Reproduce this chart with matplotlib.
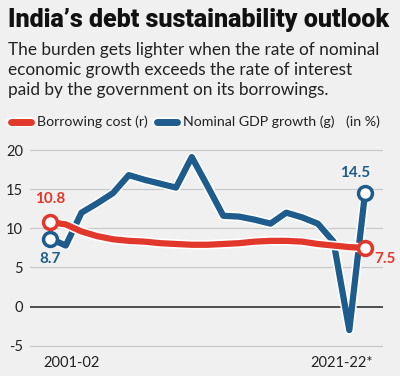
"""
India's debt sustainability outlook: borrowing cost vs nominal GDP growth
"""

import matplotlib
matplotlib.use("Agg")
import matplotlib.pyplot as plt
import matplotlib.patheffects as pe
from matplotlib.transforms import offset_copy

# データ（%）
years = ["2001-02", "2002-03", "2003-04", "2004-05", "2005-06", "2006-07", "2007-08",
         "2008-09", "2009-10", "2010-11", "2011-12", "2012-13", "2013-14", "2014-15",
         "2015-16", "2016-17", "2017-18", "2018-19", "2019-20", "2020-21", "2021-22*"]
borrowing_cost = [10.8, 10.5, 9.6, 9.0, 8.6, 8.4, 8.3, 8.1, 8.0, 7.9, 7.9,
                  8.0, 8.1, 8.3, 8.4, 8.4, 8.3, 8.0, 7.8, 7.6, 7.5]
gdp_growth = [8.7, 7.8, 12.0, 13.2, 14.5, 16.8, 16.2, 15.7, 15.2, 19.1, 15.4,
              11.6, 11.5, 11.1, 10.6, 12.0, 11.4, 10.6, 8.3, -3.0, 14.5]
y_ticks = [-5, 0, 5, 10, 15, 20]

RED = "#e2382b"
BLUE = "#1d5c8c"
BG = "#f0f0f0"
TEXT = "#222222"
SANS = ["Lato", "DejaVu Sans"]

fig = plt.figure(figsize=(4.0, 3.76), dpi=100, facecolor=BG)

# --- タイトル / サブタイトル ---
fig.text(0.02, 0.978, "India\u2019s debt sustainability outlook", ha="left", va="top",
         fontsize=18, fontweight="heavy", color="#111111",
         family=["Roboto", "DejaVu Sans"])
fig.text(0.02, 0.888,
         "The burden gets lighter when the rate of nominal\n"
         "economic growth exceeds the rate of interest\n"
         "paid by the government on its borrowings.",
         ha="left", va="top", fontsize=12.4, color=TEXT, linespacing=1.3,
         family=SANS)

# --- 凡例 ---
leg_y = 1 - 122 / 376
for x0, color, label in [(0.027, RED, "Borrowing cost (r)"),
                         (0.392, BLUE, "Nominal GDP growth (g)")]:
    fig.lines.append(plt.Line2D([x0, x0 + 0.05], [leg_y, leg_y], transform=fig.transFigure,
                                color=color, linewidth=5, solid_capstyle="round",
                                path_effects=[pe.Stroke(linewidth=7, foreground="white"), pe.Normal()]))
    fig.text(x0 + 0.065, leg_y, label, ha="left", va="center", fontsize=10.2, color=TEXT,
             family=SANS)
fig.text(0.95, leg_y, "(in %)", ha="right", va="center", fontsize=10.2, color=TEXT,
         family=SANS)

# --- チャート本体 ---
ax = fig.add_axes([0.075, 0.0742, 0.8825, 0.533])
ax.set_facecolor(BG)
x = list(range(len(years)))

for yv in y_ticks:
    ax.axhline(yv, color="#333333" if yv == 0 else "#c9c9c9",
               linewidth=1.2 if yv == 0 else 0.9, zorder=1)

outline = [pe.Stroke(linewidth=6.8, foreground="white"), pe.Normal()]
ax.plot(x, gdp_growth, color=BLUE, linewidth=4.5, solid_joinstyle="round",
        path_effects=outline, zorder=3)
ax.plot(x, borrowing_cost, color=RED, linewidth=4.5, solid_joinstyle="round",
        path_effects=outline, zorder=4)

# 端点マーカー
for series, color in [(gdp_growth, BLUE), (borrowing_cost, RED)]:
    ax.plot([x[0], x[-1]], [series[0], series[-1]], linestyle="none", marker="o",
            markersize=10, markerfacecolor="white", markeredgecolor=color,
            markeredgewidth=2.5, zorder=5, clip_on=False)

# 値ラベル
lab_kw = dict(fontsize=11, fontweight="bold", family=SANS)
ax.text(x[0], borrowing_cost[0] + 2.4, f"{borrowing_cost[0]}", color=RED, ha="center", **lab_kw)
ax.text(x[0], gdp_growth[0] - 2.6, f"{gdp_growth[0]}", color=BLUE, ha="center", va="center", **lab_kw)
ax.text(x[-1] - 0.6, gdp_growth[-1] + 2.0, f"{gdp_growth[-1]}", color=BLUE, ha="center", **lab_kw)
ax.text(x[-1] + 0.6, borrowing_cost[-1] - 1.4, f"{borrowing_cost[-1]}", color=RED,
        ha="left", va="center", clip_on=False, **lab_kw)

ax.set_xlim(-1.27, 21.14)
ax.set_ylim(-5.3, 20.3)
ax.set_yticks(y_ticks)
ax.set_yticklabels([str(v) for v in y_ticks], fontsize=10.5, color=TEXT, family=SANS)
ax.tick_params(axis="y", length=0, pad=5)
ax.set_xticks([])
for s in ax.spines.values():
    s.set_visible(False)

# x軸ラベル（最初と最後のみ）
ax.text(x[0], -0.03, years[0], ha="left", va="top", fontsize=10.5, color=TEXT, family=SANS,
        transform=offset_copy(ax.get_xaxis_transform(), fig=fig, x=-7, y=-2, units="dots"))
ax.text(x[-1], -0.03, years[-1], ha="right", va="top", fontsize=10.5, color=TEXT, family=SANS,
        transform=offset_copy(ax.get_xaxis_transform(), fig=fig, x=8, y=-2, units="dots"))

fig.savefig("out.png", dpi=100, facecolor=BG)
